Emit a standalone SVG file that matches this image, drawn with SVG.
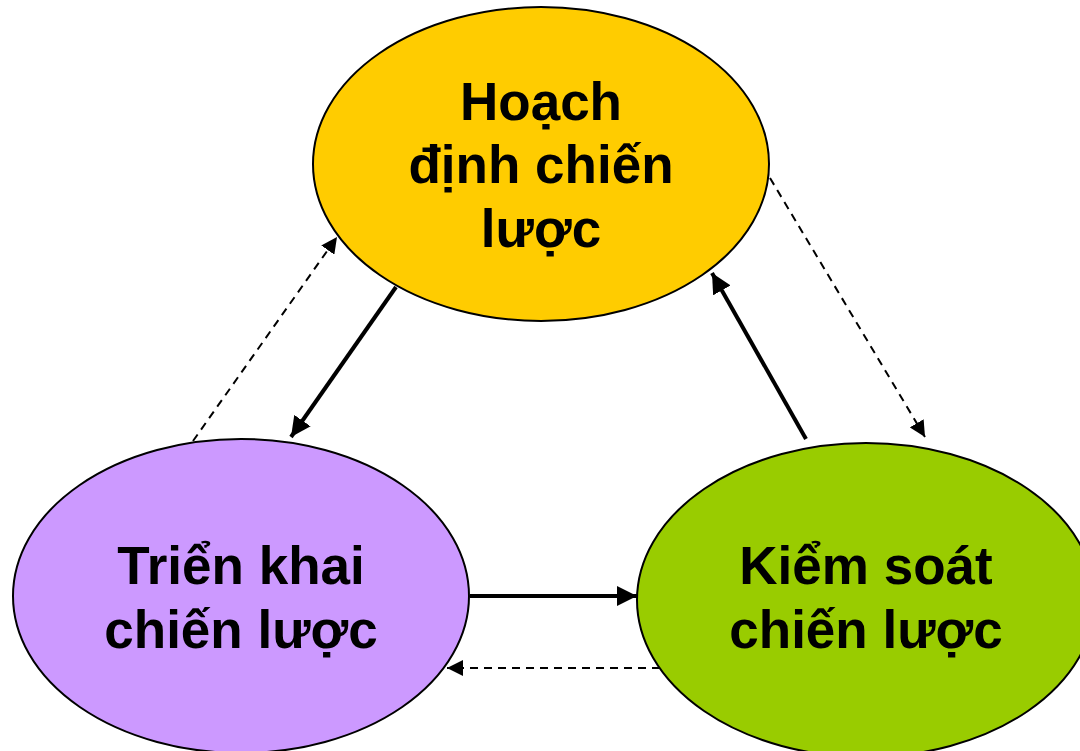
<svg xmlns="http://www.w3.org/2000/svg" width="1080" height="751" viewBox="0 0 1080 751">
  <style>
    .node { stroke: #000; stroke-width: 2; }
    .label { font-family: "Liberation Sans", Arial, sans-serif; font-weight: bold; font-size: 53px; text-anchor: middle; fill: #000; }
    .solid { stroke: #000; stroke-width: 4; fill: none; }
    .dashed { stroke: #000; stroke-width: 2; stroke-dasharray: 8 6; fill: none; }
  </style>
  <defs>
    <marker id="head" viewBox="0 0 10 10" refX="10" refY="5" markerWidth="5" markerHeight="5" orient="auto" markerUnits="strokeWidth">
      <path d="M0,0 L10,5 L0,10 Z" fill="#000"/>
    </marker>
    <marker id="headThin" viewBox="0 0 10 10" refX="10" refY="5" markerWidth="8" markerHeight="8" orient="auto" markerUnits="strokeWidth">
      <path d="M0,0 L10,5 L0,10 Z" fill="#000"/>
    </marker>
  </defs>
  <rect width="1080" height="751" fill="#fff"/>

  <g id="planning">
    <ellipse class="node" cx="541" cy="164" rx="228" ry="157" fill="#FFCC00"/>
    <text class="label" x="541" y="120">Hoạch</text>
    <text class="label" x="541" y="183">định chiến</text>
    <text class="label" x="541" y="247">lược</text>
  </g>

  <g id="implementation">
    <ellipse class="node" cx="241" cy="596" rx="228" ry="157" fill="#CC99FF"/>
    <text class="label" x="241" y="584">Triển khai</text>
    <text class="label" x="241" y="648">chiến lược</text>
  </g>

  <g id="control">
    <ellipse class="node" cx="866" cy="600" rx="229" ry="157" fill="#99CC00"/>
    <text class="label" x="866" y="584">Kiểm soát</text>
    <text class="label" x="866" y="648">chiến lược</text>
  </g>

  <g id="connectors">
    <line class="solid" x1="396" y1="287" x2="291" y2="437" marker-end="url(#head)"/>
    <line class="dashed" x1="193" y1="441" x2="337" y2="237" marker-end="url(#headThin)"/>
    <line class="solid" x1="806" y1="439" x2="712" y2="273" marker-end="url(#head)"/>
    <line class="dashed" x1="770" y1="178" x2="925" y2="437" marker-end="url(#headThin)"/>
    <line class="solid" x1="470" y1="596" x2="637" y2="596" marker-end="url(#head)"/>
    <line class="dashed" x1="660" y1="668" x2="447" y2="668" marker-end="url(#headThin)"/>
  </g>
</svg>
